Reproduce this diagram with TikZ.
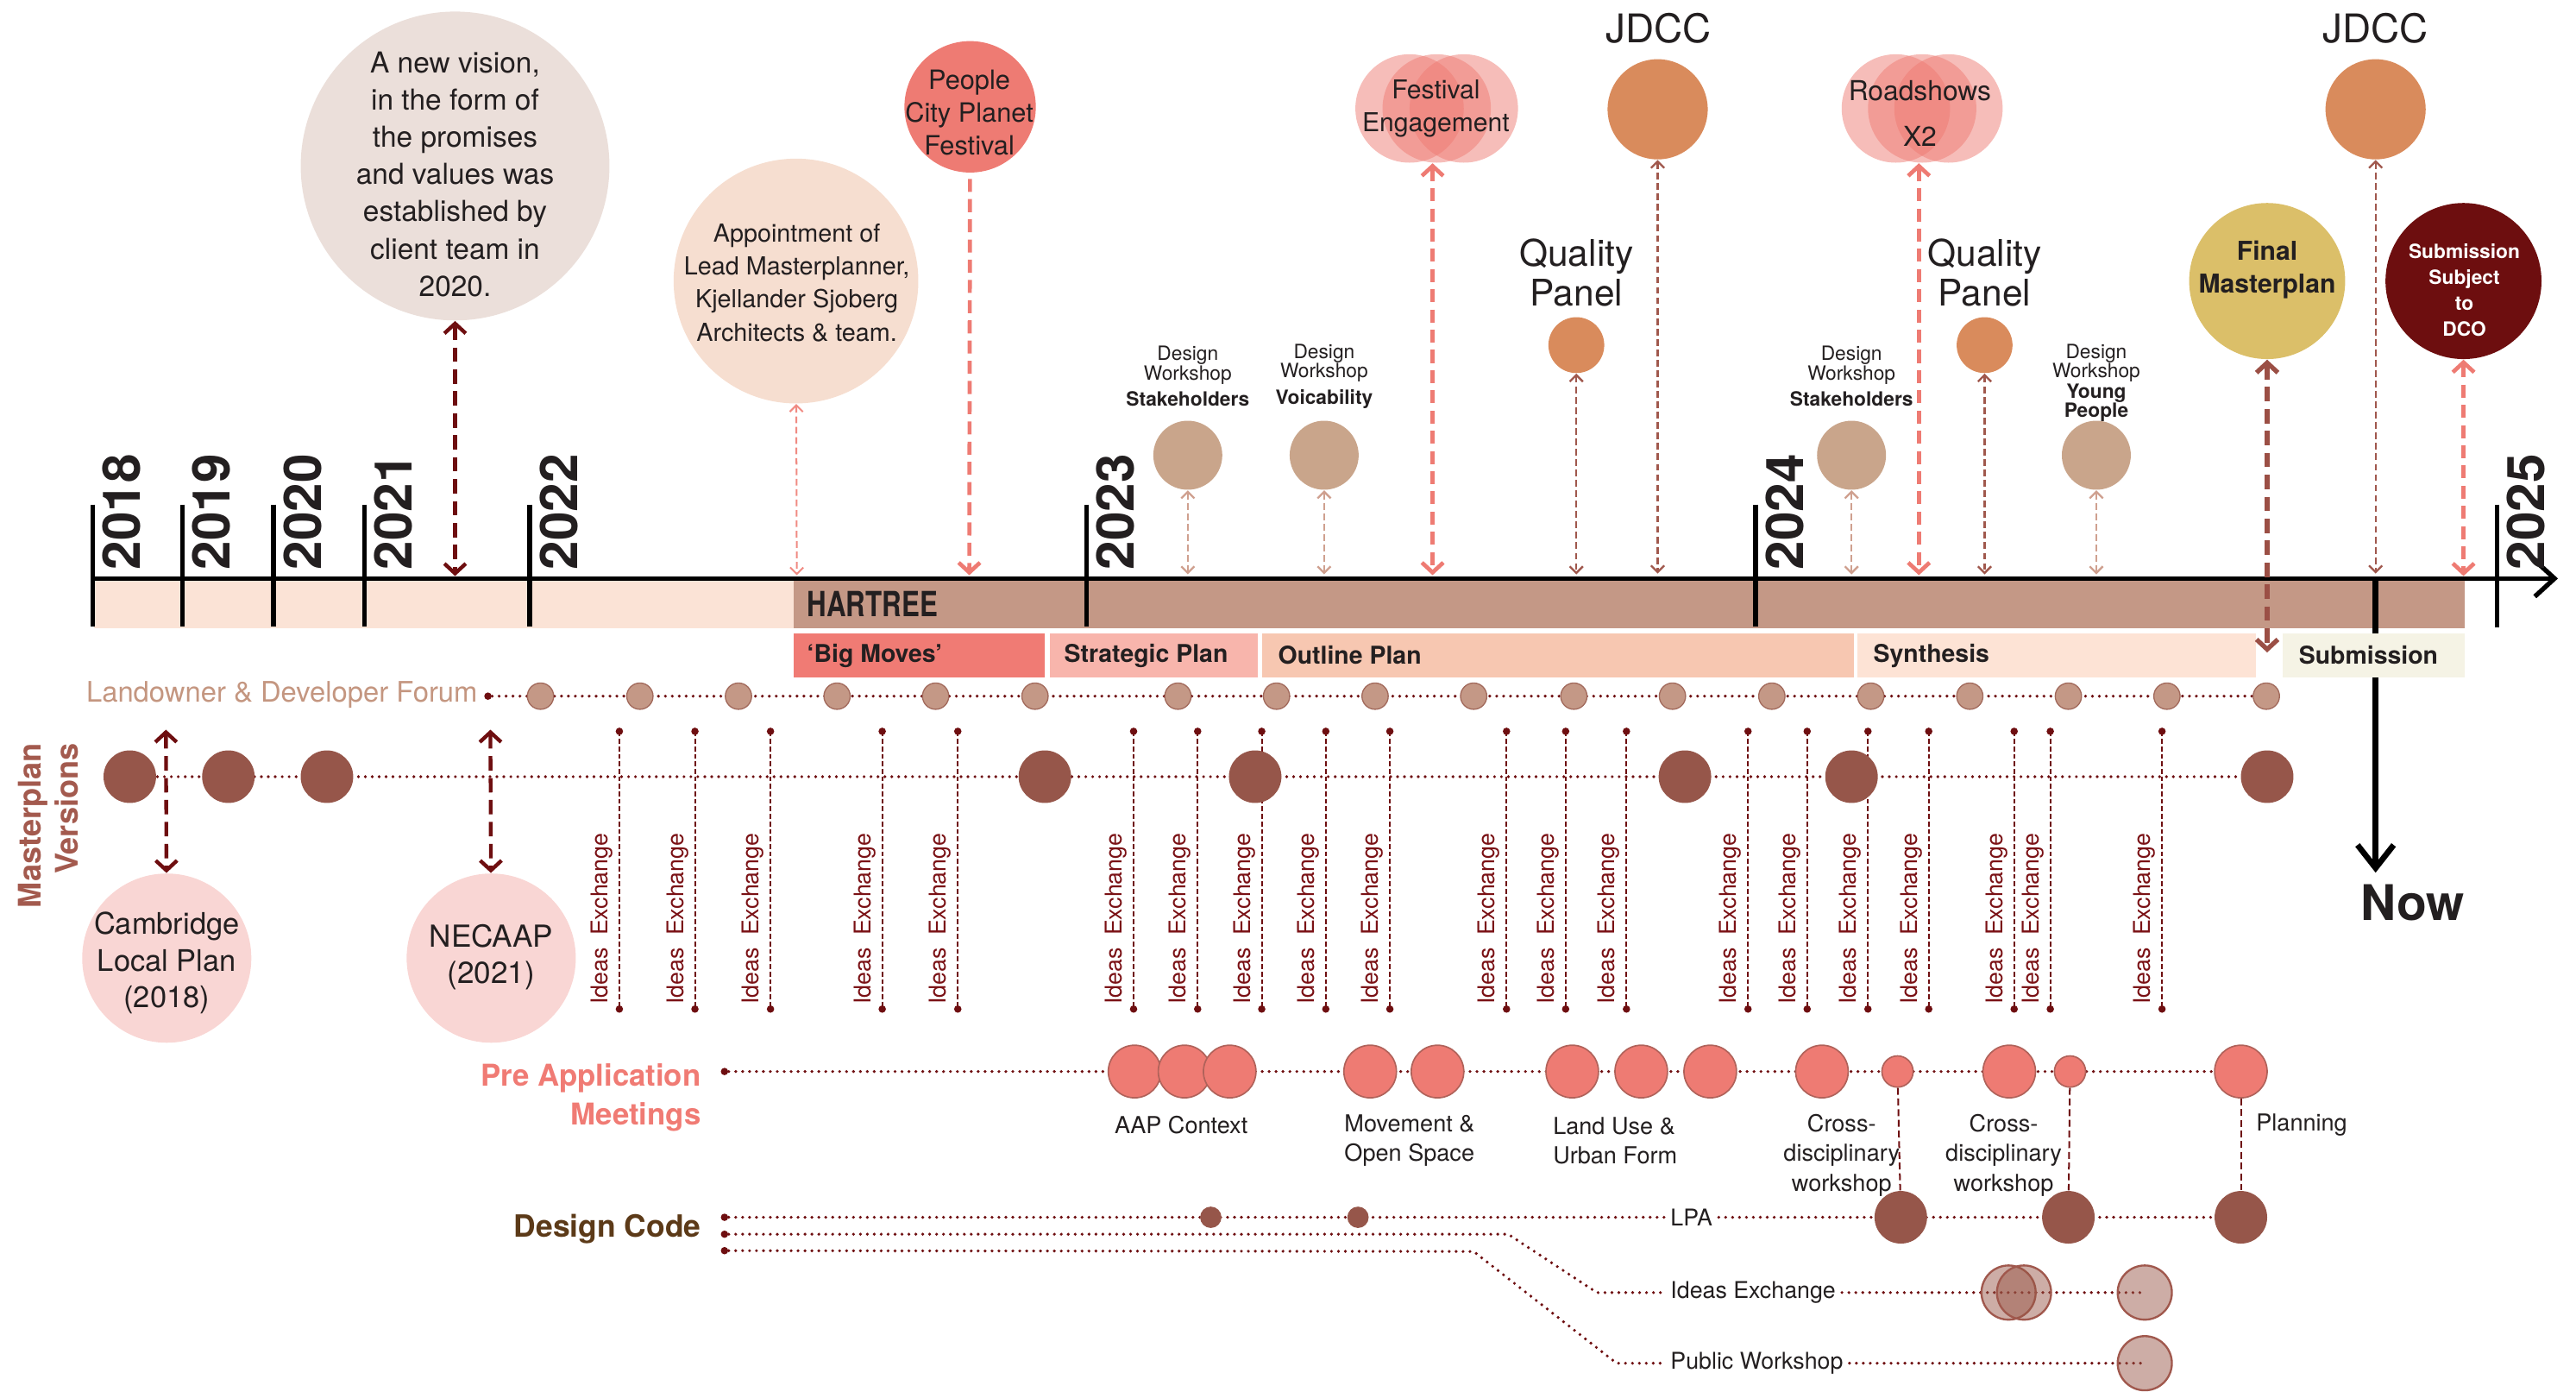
\documentclass[tikz,border=0pt]{standalone}
\usepackage{fontspec}
\setmainfont{TeX Gyre Heros}
\newfontfamily\narrowfont[FakeStretch=0.78]{TeX Gyre Heros}
\usetikzlibrary{arrows.meta,calc}
\newcommand{\fsz}[2]{\fontsize{#1}{#2}\selectfont}
\definecolor{txt}{HTML}{231F20}
\definecolor{dkred}{HTML}{6E0E10}
\definecolor{iered}{HTML}{7A1115}
\definecolor{salmon}{HTML}{EE7B73}
\definecolor{brownc}{HTML}{96564A}
\definecolor{tanc}{HTML}{C49886}
\definecolor{tanstroke}{HTML}{A26A5C}
\definecolor{dwc}{HTML}{C9A58B}
\definecolor{orangec}{HTML}{D98B5C}
\definecolor{goldc}{HTML}{DBBF69}
\definecolor{dcoc}{HTML}{6D0E0F}
\definecolor{pinkc}{HTML}{F9D6D4}
\definecolor{visionc}{HTML}{EBDFDA}
\definecolor{apptc}{HTML}{F6DED0}
\definecolor{bandc}{HTML}{FBE3D6}
\definecolor{hartc}{HTML}{C49886}
\definecolor{bmc}{HTML}{F07B74}
\definecolor{spc}{HTML}{F8B5AC}
\definecolor{opc}{HTML}{F7C7B1}
\definecolor{syc}{HTML}{FDE3D5}
\definecolor{suc}{HTML}{F5F3E5}
\definecolor{forumtxt}{HTML}{C49680}
\definecolor{mvtxt}{HTML}{A35A4E}
\definecolor{pretxt}{HTML}{F07B74}
\definecolor{dctxt}{HTML}{5C3A18}
\definecolor{dwarr}{HTML}{CFA08F}
\definecolor{brarr}{HTML}{A0584D}
\definecolor{fmarr}{HTML}{9B4F45}
\definecolor{pinkarr}{HTML}{F08A82}
\definecolor{iec}{HTML}{975444}
\definecolor{pastroke}{HTML}{B0625A}
\begin{document}
\begin{tikzpicture}[x=0.02cm,y=-0.02cm,every node/.style={text=txt}]
\tikzset{
  bub/.style={circle,inner sep=0pt,minimum size=#1*0.04cm},
  lbl/.style={inner sep=0pt,align=center},
  tickln/.style={line width=1.6pt},
  yr/.style={rotate=90,anchor=base west,inner sep=0pt,font=\bfseries\fsz{18}{18}},
  bt/.style={arrows={Straight Barb[length=1.2mm,width=2.6mm]-Straight Barb[length=1.2mm,width=2.6mm]}},
  bte/.style={arrows={-Straight Barb[length=1.2mm,width=2.6mm]}},
  st/.style={arrows={Straight Barb[length=0.8mm,width=1.6mm]-Straight Barb[length=0.8mm,width=1.6mm]}},
  dk/.style={draw=dkred,line width=1.3pt,dash pattern=on 5pt off 2.6pt},
  sal/.style={draw=salmon,line width=1.4pt,dash pattern=on 4.5pt off 2.5pt},
  fm/.style={draw=fmarr,line width=1.6pt,dash pattern=on 5pt off 2.6pt},
  pk/.style={draw=pinkarr,line width=0.6pt,dash pattern=on 2.3pt off 1.3pt},
  br/.style={draw=brarr,line width=0.7pt,dash pattern=on 2.3pt off 1.3pt},
  tn/.style={draw=dwarr,line width=0.7pt,dash pattern=on 2.3pt off 1.3pt},
  dots/.style={draw=dkred,line width=1.1pt,line cap=round,dash pattern=on 0pt off 2.4pt},
  vd/.style={draw=dkred,line width=0.6pt,dash pattern=on 1.7pt off 0.9pt},
  vc/.style={draw=dkred,line width=0.6pt,dash pattern=on 2.4pt off 1.3pt},
  enddot/.style={circle,fill=dkred,inner sep=0pt,minimum size=0.09cm},
  phase/.style={rectangle,inner sep=0pt,anchor=north west,minimum height=0.54cm},
  phtxt/.style={anchor=west,inner sep=0pt,font=\bfseries\fsz{8.5}{10}},
  small/.style={inner sep=0pt,font=\fsz{8.1}{10.2}},
  ie/.style={rotate=90,anchor=base,inner sep=0pt,font=\fsz{8}{9},text=iered},
}
\useasboundingbox (0,0) rectangle (1568,846.5);

% ---------------- top bubbles ----------------
\node[bub=94,fill=visionc] (vision) at (277,101) {};
\node[lbl,font=\fsz{10}{12.9}] (visiont) at (277,106) {A new vision,\\in the form of\\the promises\\and values was\\established by\\client team in\\2020.};
\node[bub=74.5,fill=apptc] (appt) at (484.5,171) {};
\node[lbl,font=\fsz{8.6}{11.5}] (apptt) at (485,172) {Appointment of\\Lead Masterplanner,\\Kjellander Sjoberg\\Architects \& team.};
\node[bub=40,fill=salmon] (people) at (590.5,65) {};
\node[lbl,font=\fsz{9.2}{11.4}] (peoplet) at (590,68.5) {People\\City Planet\\Festival};
\foreach \x/\n in {858/1,874.5/2,891/3}
  \node[bub=33,fill=salmon,fill opacity=0.5] (fest\n) at (\x,66) {};
\node[lbl,font=\fsz{9}{11.4}] (festt) at (874,66) {Festival\\Engagement};
\node[lbl,font=\fsz{13.7}{14}] (jdccl1) at (1009.5,17) {JDCC};
\node[bub=30.5,fill=orangec] (jdcc1) at (1009,66.5) {};
\node[lbl,font=\fsz{12.7}{13.7}] (qpt1) at (959.6,166) {Quality\\Panel};
\node[bub=17,fill=orangec] (qp1) at (959.5,210) {};
\foreach \x/\n in {1154/1,1170/2,1186/3}
  \node[bub=33,fill=salmon,fill opacity=0.5] (road\n) at (\x,66) {};
\node[lbl,font=\fsz{9.5}{15.7}] (roadt) at (1168.6,69) {Roadshows\\X2};
\node[lbl,font=\fsz{12.7}{13.7}] (qpt2) at (1208,166) {Quality\\Panel};
\node[bub=17,fill=orangec] (qp2) at (1208,210) {};
\node[lbl,font=\fsz{13.7}{14}] (jdccl2) at (1446,17) {JDCC};
\node[bub=30.5,fill=orangec] (jdcc2) at (1446,66.5) {};
\node[bub=47.5,fill=goldc] (final) at (1380,171) {};
\node[lbl,font=\bfseries\fsz{9}{11.4}] (finalt) at (1380,164) {Final\\Masterplan};
\node[bub=47.5,fill=dcoc] (dco) at (1499.5,171) {};
\node[lbl,font=\bfseries\fsz{6.8}{9},text=white] (dcot) at (1500,176.5) {Submission\\Subject\\to\\DCO};

% design workshops
\foreach \x/\n in {723/1,806/2,1127/3,1276/4}
  \node[bub=21,fill=dwc] (dw\n) at (\x,277) {};
\node[lbl,font=\fsz{6.8}{6.6}] (dwt1) at (723,229) {Design\\Workshop\\[2.5pt]\textbf{Stakeholders}};
\node[lbl,font=\fsz{6.8}{6.6}] (dwt2) at (806,229) {Design\\Workshop\\[2.5pt]\textbf{Voicability}};
\node[lbl,font=\fsz{6.8}{6.6}] (dwt3) at (1127,229) {Design\\Workshop\\[2.5pt]\textbf{Stakeholders}};
\node[lbl,font=\fsz{6.8}{6.6}] (dwt4) at (1276,233) {Design\\Workshop\\[0.5pt]\textbf{Young}\\\textbf{People}};

% ---------------- bands ----------------
\node[phase,fill=bandc,minimum width=8.52cm,minimum height=0.58cm] (band) at (57,353) {};
\node[phase,fill=hartc,minimum width=20.34cm,minimum height=0.58cm] (hart) at (483,353) {};
\node[anchor=west,inner sep=0pt,font=\narrowfont\bfseries\fsz{12}{12}] (hartt) at (491,367.5) {HARTREE};

% Now line
\coordinate (nowT) at (1446,352);
\coordinate (nowB) at (1446,531);
\draw[line width=2pt,-{Straight Barb[length=2.8mm,width=4.4mm]}] (nowT) -- (nowB);
\node[inner sep=0pt,anchor=north,font=\bfseries\fsz{17}{18}] (now) at (1468.5,538) {Now};

\node[phase,fill=bmc,minimum width=3.05cm] (pbm) at (483,385) {};
\node[phase,fill=spc,minimum width=2.54cm] (psp) at (638.5,385) {};
\node[phase,fill=opc,minimum width=7.212cm] (pop) at (767.7,385) {};
\node[phase,fill=syc,minimum width=4.854cm] (psy) at (1130,385) {};
\node[phase,fill=suc,minimum width=2.214cm] (psu) at (1389,385) {};
\node[phtxt] (tbm) at ([xshift=0.16cm]pbm.west) {‘Big Moves’};
\node[phtxt] (tsp) at ([xshift=0.18cm]psp.west) {Strategic Plan};
\node[phtxt] (top) at ([xshift=0.2cm]pop.west) {Outline Plan};
\node[phtxt] (tsy) at ([xshift=0.2cm]psy.west) {Synthesis};
\node[phtxt] (tsu) at ([xshift=0.2cm]psu.west) {Submission};

% ---------------- axis ----------------
\coordinate (axL) at (56,352);
\coordinate (axR) at (1557,352);
\draw[line width=1.6pt,-{Straight Barb[length=2.4mm,width=4.4mm]}] (axL) -- (axR);
\foreach \x in {56.5,111,166.5,222,322.5,661.5,1068.6}
  \draw[tickln] (\x,307) -- (\x,381);
\draw[tickln] (1520,307) -- (1520,382);
\node[yr] (y2018) at (85.5,347) {2018};
\node[yr] (y2019) at (140,347) {2019};
\node[yr] (y2020) at (195.5,347) {2020};
\node[yr] (y2021) at (251,347) {2021};
\node[yr] (y2022) at (351.5,347) {2022};
\node[yr] (y2023) at (690.5,347) {2023};
\node[yr] (y2024) at (1097.6,347) {2024};
\node[yr] (y2025) at (1549,347) {2025};

% ---------------- top arrows ----------------
\coordinate (visionA) at (277,350.5);
\draw[dk,bt] (vision) -- (visionA);
\coordinate (apptA) at (485,350);
\draw[pk,st] (appt) -- (apptA);
\coordinate (peopleA) at (590,350);
\draw[sal,bte,shorten <=2pt] (people) -- (peopleA);
\coordinate (festA) at (872,350);
\draw[sal,bt] (fest2.south -| festA) -- (festA);
\coordinate (jdcc1A) at (1009,349);
\draw[br,st] (jdcc1) -- (jdcc1A);
\coordinate (qp1A) at (959.5,349.5);
\draw[br,st] (qp1) -- (qp1A);
\coordinate (roadA) at (1168,350);
\draw[sal,bt] (road2.south -| roadA) -- (roadA);
\coordinate (qp2A) at (1208,349.5);
\draw[br,st] (qp2) -- (qp2A);
\coordinate (jdcc2A) at (1446,349);
\draw[br,st] (jdcc2) -- (jdcc2A);
\coordinate (finalA) at (1380,397);
\draw[fm,bt] (final) -- (finalA);
\coordinate (dcoA) at (1499.5,350.5);
\draw[sal,bt] (dco) -- (dcoA);
\foreach \n in {1,2,3,4} {
  \coordinate (dwA\n) at (dw\n.center |- 0,349.5);
  \draw[tn,st] (dw\n) -- (dwA\n);
}

% ---------------- Landowner forum ----------------
\node[inner sep=0pt,anchor=east,font=\fsz{9.8}{10},text=forumtxt] (forumt) at (291,423) {Landowner \& Developer Forum};
\node[enddot] (forumd) at (297,423.6) {};
\coordinate (forumE) at (1379.5,423.6);
\draw[dots] (forumd) -- (forumE);
\foreach \x [count=\i] in {329,389.5,449.5,509.5,569.5,630,717,777,837,897,958,1018,1078.5,1138.7,1199,1259,1319,1379.5}
  \node[bub=8,fill=tanc,draw=tanstroke,line width=0.4pt] (f\i) at (\x,423.6) {};

% ---------------- Masterplan versions ----------------
\node[rotate=90,anchor=base east,inner sep=0pt,font=\bfseries\fsz{10.8}{11},text=mvtxt] (mvt1) at (25,452) {Masterplan};
\node[rotate=90,anchor=base east,inner sep=0pt,font=\bfseries\fsz{10.8}{11},text=mvtxt] (mvt2) at (47.5,452) {Versions};
\coordinate (mvL) at (79,472.6);
\coordinate (mvR) at (1380,472.6);
\draw[dots] (mvL) -- (mvR);
\foreach \x [count=\i] in {377,423,469,537,583,690,729,768,807,846,917,953,990,1064,1100,1137,1174,1226,1248,1316} {
  \coordinate (ieT\i) at (\x,445);
  \coordinate (ieB\i) at (\x,614);
  \draw[vd] (ieT\i) -- (ieB\i);
  \node[enddot] (ieTd\i) at (ieT\i) {};
  \node[enddot] (ieBd\i) at (ieB\i) {};
  \node[ie] (iet\i) at (\x-7,559) {Ideas\hspace{0.25em} Exchange};
}
\foreach \x [count=\i] in {79,139,199,636,764,1025.6,1127,1380}
  \node[bub=16,fill=brownc] (mv\i) at (\x,472.6) {};

% Cambridge / NECAAP
\node[bub=51.5,fill=pinkc] (camb) at (101.5,583) {};
\node[lbl,font=\fsz{10.3}{12.7}] (cambt) at (101.5,586) {Cambridge\\Local Plan\\(2018)};
\node[bub=51.5,fill=pinkc] (necaap) at (299,583) {};
\node[lbl,font=\fsz{10.5}{12.6}] (necaapt) at (299,582.5) {NECAAP\\(2021)};
\coordinate (cambT) at (101,444);
\draw[dk,bt] (cambT) -- (camb);
\coordinate (necaapT) at (298.5,444);
\draw[dk,bt] (necaapT) -- (necaap);

% ---------------- Pre Application ----------------
\node[inner sep=0pt,anchor=east,align=right,font=\bfseries\fsz{10.4}{13.4},text=pretxt] (pret) at (427,668) {Pre Application\\Meetings};
\node[enddot] (pad) at (441,652) {};
\coordinate (paE) at (1364,652);
\draw[dots] (pad) -- (paE);
\foreach \x [count=\i] in {690.6,721,748.5,834,875,957,999,1041,1109,1223,1364}
  \node[bub=16,fill=salmon,draw=pastroke,line width=0.5pt] (pa\i) at (\x,652) {};
\node[bub=9.5,fill=salmon,draw=pastroke,line width=0.5pt] (pas1) at (1155,652) {};
\node[bub=9.5,fill=salmon,draw=pastroke,line width=0.5pt] (pas2) at (1260,652) {};
\node[small] (aapt) at (719,684.5) {AAP Context};
\node[small,anchor=west,align=left] (movt) at (818,694) {Movement \&\\Open Space};
\node[small,anchor=west,align=left] (landt) at (945,694) {Land Use \&\\Urban Form};
\node[small,align=center] (cross1) at (1121,703) {Cross-\\disciplinary\\workshop};
\node[small,align=center] (cross2) at (1219.6,703) {Cross-\\disciplinary\\workshop};
\node[small,anchor=west] (plant) at (1373,684.5) {Planning};

% ---------------- Design Code ----------------
\node[inner sep=0pt,anchor=east,font=\bfseries\fsz{10.6}{12},text=dctxt] (dct) at (427,748) {Design Code};
\node[enddot] (dcd1) at (441,740.7) {};
\node[enddot] (dcd2) at (441,751) {};
\node[enddot] (dcd3) at (441,761) {};
\node[inner sep=2pt,anchor=west,font=\fsz{8}{9}] (lpat) at (1013,740.7) {LPA};
\node[inner sep=2pt,anchor=west,font=\fsz{8}{9}] (iext) at (1013,786.5) {Ideas Exchange};
\node[inner sep=2pt,anchor=west,font=\fsz{8}{9}] (pwt) at (1013,829.5) {Public Workshop};
\coordinate (lpaE) at (1364,740.7);
\coordinate (iexE) at (1305.5,786.5);
\coordinate (pwE) at (1305.5,829.5);
\draw[dots] (dcd1) -- (lpat.west);
\draw[dots] (lpat.east) -- (lpaE);
\draw[dots] (dcd2) -- (918,751) -- (972,786.5) -- (iext.west);
\draw[dots] (iext.east) -- (iexE);
\draw[dots] (dcd3) -- (897,761.5) -- (984,829.5) -- (pwt.west);
\draw[dots] (pwt.east) -- (pwE);
\node[bub=6.5,fill=brownc] (dcs1) at (737,740.7) {};
\node[bub=6.5,fill=brownc] (dcs2) at (826.6,740.7) {};
\node[bub=16,fill=brownc] (lpa1) at (1157,740.7) {};
\node[bub=16,fill=brownc] (lpa2) at (1259,740.7) {};
\node[bub=16,fill=brownc] (lpa3) at (1364,740.7) {};
\node[bub=16.5,fill=iec,fill opacity=0.48,draw=brarr,line width=0.7pt] (iec1) at (1222.6,786.5) {};
\node[bub=16.5,fill=iec,fill opacity=0.48,draw=brarr,line width=0.7pt] (iec2) at (1232,786.5) {};
\node[bub=16.5,fill=iec,fill opacity=0.48,draw=brarr,line width=0.7pt] (iec3) at (1305.5,786.5) {};
\node[bub=16.5,fill=iec,fill opacity=0.48,draw=brarr,line width=0.7pt] (pwc) at (1305.5,829.5) {};
\draw[vc] (pas1) -- (lpa1);
\draw[vc] (pas2) -- (lpa2);
\draw[vc] (pa11) -- (lpa3);
\end{tikzpicture}
\end{document}
